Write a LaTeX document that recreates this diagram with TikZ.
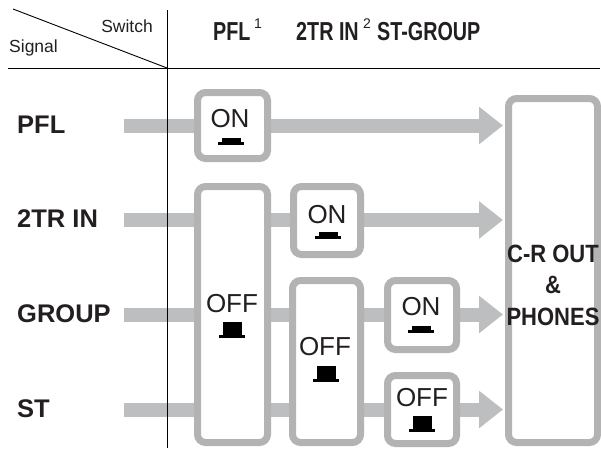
\documentclass[tikz,border=0pt]{standalone}
\usepackage{fontspec}
\setmainfont{Liberation Sans}
\newfontfamily\hdrfont[FakeStretch=0.76]{Liberation Sans}
\newfontfamily\boxfont[FakeStretch=0.88]{Liberation Sans}
\usetikzlibrary{arrows.meta}
\definecolor{barg}{HTML}{BCBEC0}
\definecolor{boxg}{HTML}{B3B3B3}
\definecolor{ink}{HTML}{231F20}
\tikzset{
  sbox/.style={draw=boxg, line width=7pt, fill=white, rounded corners=8pt, inner sep=0pt, outer sep=3.5pt},
  sigbar/.style={draw=barg, line width=14pt, -{Triangle[length=24pt,width=36pt]}, shorten >=2pt},
  rule/.style={draw=black, line width=0.9pt},
  txt/.style={inner sep=0pt, text=ink},
  rowlab/.style={txt, anchor=base west, font=\fontsize{25.5}{30}\selectfont\bfseries},
  hdr/.style={txt, anchor=base west, font=\fontsize{26}{30}\selectfont\hdrfont\bfseries},
  supnum/.style={txt, anchor=base west, font=\fontsize{14}{16}\selectfont},
  small/.style={txt, font=\fontsize{17.5}{20}\selectfont},
  boxtxt/.style={txt, anchor=base, font=\fontsize{26}{30}\selectfont},
  outtxt/.style={txt, anchor=base, font=\fontsize{25}{30}\selectfont\boxfont\bfseries},
  onbtn/.pic={
    \fill[black] (-9.5,0) rectangle (9.5,4);
    \fill[black] (-13,4) rectangle (13,7);
  },
  offbtn/.pic={
    \fill[black] (-9.5,0) rectangle (9.5,13);
    \fill[black] (-13,13) rectangle (13,16);
  }
}
\begin{document}
\begin{tikzpicture}[x=1pt,y=-1pt]
\useasboundingbox (0,0) rectangle (601,448);
% header
\draw[rule] (8,68) -- (600,68);
\draw[rule] (167,10) -- (167,448);
\draw[rule] (13,9) -- (167,68);
\node[small, anchor=base east] (sw) at (153,32) {Switch};
\node[small, anchor=base west] (sig) at (9,52) {Signal};
\node[hdr] (hpfl) at (213,40) {PFL};
\node[supnum] (s1) at (254,28) {1};
\node[hdr] (h2tr) at (296,40) {2TR IN};
\node[supnum] (s2) at (363,28) {2};
\node[hdr] (hst) at (377,40) {ST-GROUP};
% output box
\node[sbox, minimum width=89pt, minimum height=344pt] (out) at (553,270.5) {};
\node[outtxt] (o1) at (553,262) {C-R OUT};
\node[outtxt] (o2) at (553,293) {\&};
\node[outtxt] (o3) at (553,325) {PHONES};
% row labels and signal bars
\node[rowlab] (lpfl) at (17,133) {PFL};
\node[rowlab] (l2tr) at (17,227.5) {2TR IN};
\node[rowlab] (lgrp) at (17,322) {GROUP};
\node[rowlab] (lst) at (17,417) {ST};
\coordinate (spfl) at (124,125.5);
\coordinate (s2tr) at (124,220);
\coordinate (sgrp) at (124,314.5);
\coordinate (sst) at (124,409.5);
\draw[sigbar] (spfl) -- (spfl -| out.west);
\draw[sigbar] (s2tr) -- (s2tr -| out.west);
\draw[sigbar] (sgrp) -- (sgrp -| out.west);
\draw[sigbar] (sst) -- (sst -| out.west);
\draw[rule] (167,68) -- (167,448);
% switch boxes
\node[sbox, minimum width=70pt, minimum height=66pt] (b1) at (232.5,125.5) {};
\node[sbox, minimum width=70pt, minimum height=256pt] (b2) at (232.5,314.5) {};
\node[sbox, minimum width=67pt, minimum height=68pt] (b4) at (327,220.5) {};
\node[sbox, minimum width=68pt, minimum height=162pt] (b3) at (326.5,361.5) {};
\node[sbox, minimum width=69pt, minimum height=69pt] (b5) at (422,315) {};
\node[sbox, minimum width=69pt, minimum height=68pt] (b6) at (422,409.5) {};
% switch states
\node[boxtxt] (t1) at (230,127.5) {ON};
\pic at (231,138) {onbtn};
\node[boxtxt] (t2) at (232,312) {OFF};
\pic at (232,322) {offbtn};
\node[boxtxt] (t4) at (327,223) {ON};
\pic at (328,232) {onbtn};
\node[boxtxt] (t3) at (325,355) {OFF};
\pic at (326,366) {offbtn};
\node[boxtxt] (t5) at (421,315) {ON};
\pic at (421,326) {onbtn};
\node[boxtxt] (t6) at (422,406) {OFF};
\pic at (422,416) {offbtn};
\end{tikzpicture}
\end{document}
